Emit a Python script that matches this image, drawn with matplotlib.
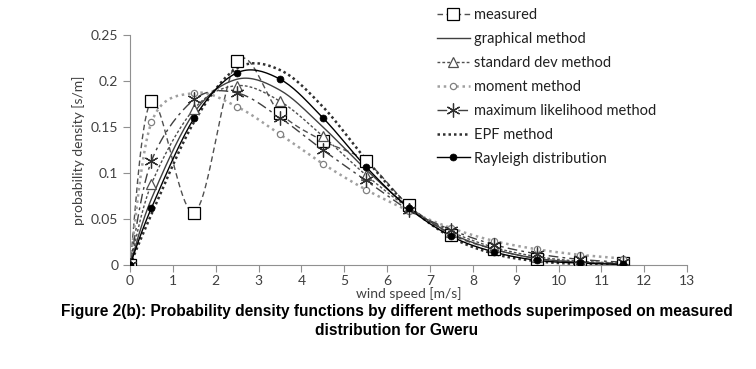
import numpy as np
import matplotlib
matplotlib.use("Agg")
import matplotlib.pyplot as plt

# wind speed bin midpoints [m/s]
speed = [0, 0.5, 1.5, 2.5, 3.5, 4.5, 5.5, 6.5, 7.5, 8.5, 9.5, 10.5, 11.5]

measured = [0, 0.178, 0.057, 0.222, 0.165, 0.135, 0.113, 0.065, 0.033, 0.017, 0.007, 0.003, 0.002]
graphical = [0, 0.072, 0.166, 0.202, 0.190, 0.150, 0.104, 0.063, 0.034, 0.017, 0.007, 0.003, 0.001]
std_dev = [0, 0.088, 0.170, 0.195, 0.178, 0.140, 0.098, 0.062, 0.036, 0.019, 0.009, 0.004, 0.002]
moment = [0, 0.155, 0.187, 0.172, 0.142, 0.110, 0.082, 0.059, 0.040, 0.026, 0.017, 0.011, 0.007]
max_like = [0, 0.113, 0.180, 0.187, 0.160, 0.125, 0.092, 0.060, 0.038, 0.022, 0.012, 0.006, 0.003]
epf = [0, 0.055, 0.156, 0.214, 0.212, 0.172, 0.115, 0.064, 0.030, 0.012, 0.004, 0.001, 0.0003]
rayleigh = [0, 0.062, 0.160, 0.209, 0.202, 0.160, 0.107, 0.062, 0.031, 0.014, 0.005, 0.002, 0.0005]


def smooth(x, y, n=20):
    # excel-like smoothed line (bezier with catmull-rom control points)
    x = np.asarray(x, float)
    y = np.asarray(y, float)
    px = np.concatenate([[x[0]], x, [x[-1]]])
    py = np.concatenate([[y[0]], y, [y[-1]]])
    xs, ys = [], []
    t = np.linspace(0, 1, n)
    for i in range(1, len(px) - 2):
        p0 = np.array([px[i], py[i]])
        p3 = np.array([px[i + 1], py[i + 1]])
        p1 = p0 + (np.array([px[i + 1], py[i + 1]]) - np.array([px[i - 1], py[i - 1]])) / 6
        p2 = p3 - (np.array([px[i + 2], py[i + 2]]) - np.array([px[i], py[i]])) / 6
        b = ((1 - t) ** 3)[:, None] * p0 + (3 * (1 - t) ** 2 * t)[:, None] * p1 \
            + (3 * (1 - t) * t ** 2)[:, None] * p2 + (t ** 3)[:, None] * p3
        xs.extend(b[:, 0])
        ys.extend(b[:, 1])
    return xs, ys


plt.rcParams['font.family'] = ['Lato', 'DejaVu Sans']

fig = plt.figure(figsize=(7.56, 3.69), dpi=100)
ax = fig.add_axes([0.172, 0.282, 0.737, 0.623])

series = [
    ("measured", measured, dict(color="#505050", ls=(0, (4, 2.5)), lw=1.0),
     dict(marker="s", ms=8, mfc="white", mec="black", mew=0.9)),
    ("graphical method", graphical, dict(color="#404040", ls="-", lw=1.0), None),
    ("standard dev method", std_dev, dict(color="#505050", ls=(0, (2, 1.5)), lw=1.0),
     dict(marker="^", ms=7, mfc="white", mec="#505050", mew=0.9)),
    ("moment method", moment, dict(color="#a0a0a0", ls=(0, (1, 1.5)), lw=1.8),
     dict(marker="o", ms=4.5, mfc="white", mec="#808080", mew=0.9)),
    ("maximum likelihood method", max_like, dict(color="#404040", ls=(0, (7, 3, 2, 3)), lw=1.0),
     dict(marker=(6, 2, 0), ms=10, mfc="none", mec="#303030", mew=0.9)),
    ("EPF method", epf, dict(color="#303030", ls=(0, (1, 1.2)), lw=1.8), None),
    ("Rayleigh distribution", rayleigh, dict(color="black", ls="-", lw=1.0),
     dict(marker="o", ms=5, mfc="black", mec="black", mew=0.5)),
]

handles = []
for name, vals, lstyle, mstyle in series:
    sx, sy = smooth(speed, vals)
    ax.plot(sx, sy, zorder=2, **lstyle)
    if mstyle:
        ax.plot(speed, vals, ls="none", zorder=3, **mstyle)
        h, = ax.plot([], [], label=name, **lstyle, **mstyle)
    else:
        h, = ax.plot([], [], label=name, **lstyle)
    handles.append(h)

ax.set_xlim(0, 13)
ax.set_ylim(0, 0.25)
ax.set_xticks(range(0, 14))
ax.set_yticks([0, 0.05, 0.1, 0.15, 0.2, 0.25])
ax.set_yticklabels(["0", "0.05", "0.1", "0.15", "0.2", "0.25"])
for s in ["top", "right"]:
    ax.spines[s].set_visible(False)
for s in ["left", "bottom"]:
    ax.spines[s].set_color("#909090")
ax.tick_params(colors="#909090", labelcolor="#404040", labelsize=10, length=5, width=0.8)
ax.tick_params(axis="x", pad=2)
ax.set_xlabel("wind speed [m/s]", fontsize=10, color="#404040", labelpad=0)
ax.set_ylabel("probability density [s/m]", fontsize=10, color="#404040", labelpad=4)

fig.legend(handles=handles, loc="upper left", bbox_to_anchor=(0.568, 1.0), frameon=False,
           fontsize=10.5, handlelength=2.2, handletextpad=0.3, labelspacing=0.68,
           labelcolor="#202020", borderaxespad=0.15)

fig.text(0.525, 0.13, "Figure 2(b): Probability density functions by different methods superimposed on measured\ndistribution for Gweru",
         ha="center", va="center", fontsize=11.2, fontweight="bold",
         family=["Liberation Sans Narrow", "Liberation Sans", "DejaVu Sans"], linespacing=1.35)

fig.savefig("out.png", dpi=100)
